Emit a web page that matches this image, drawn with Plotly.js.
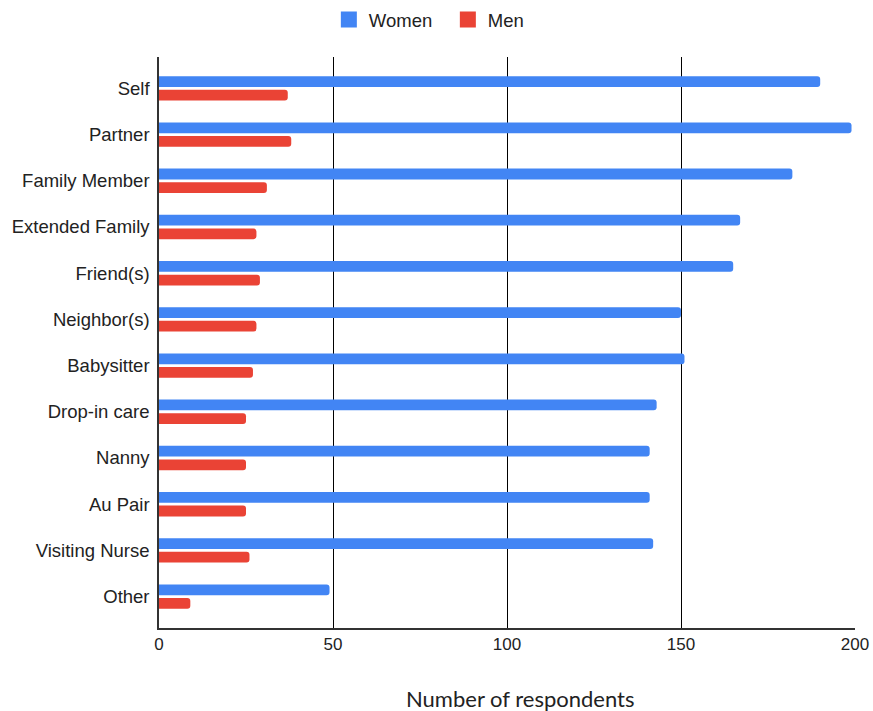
<!DOCTYPE html>
<html><head><meta charset="utf-8">
<script src="https://cdn.plot.ly/plotly-3.0.1.min.js"></script>
<style>html,body{margin:0;padding:0;background:#fff}</style>
</head><body>
<div id="chart" style="width:873px;height:711px"></div>
<script>
const categories = ["Self","Partner","Family Member","Extended Family","Friend(s)","Neighbor(s)","Babysitter","Drop-in care","Nanny","Au Pair","Visiting Nurse","Other"];
const women = [190,199,182,167,165,150,151,143,141,141,142,49];
const men = [37,38,31,28,29,28,27,25,25,25,26,9];
const seriesNames = ["Women","Men"];
const seriesColors = ['#4285f4','#ea4335'];
const xTicks = [0,50,100,150,200];
const xTitle = 'Number of respondents';

const traces = [
  {type:'bar', orientation:'h', name:seriesNames[0], y:categories, x:women, showlegend:false,
   marker:{color:seriesColors[0], cornerradius:3}, hoverinfo:'x+y'},
  {type:'bar', orientation:'h', name:seriesNames[1], y:categories, x:men, showlegend:false,
   marker:{color:seriesColors[1], cornerradius:3}, hoverinfo:'x+y'},
  {type:'scatter', mode:'markers', name:seriesNames[0], x:[null], y:[null],
   marker:{symbol:'square', size:17, color:seriesColors[0]}},
  {type:'scatter', mode:'markers', name:seriesNames[1], x:[null], y:[null],
   marker:{symbol:'square', size:17, color:seriesColors[1]}}
];
const layout = {
  width:873, height:711,
  margin:{l:159, r:18, t:57, b:83},
  paper_bgcolor:'#fff', plot_bgcolor:'#fff',
  barmode:'group', bargap:0.41, bargroupgap:0.21,
  font:{family:'Liberation Sans, Arial, sans-serif', size:17, color:'#222'},
  showlegend:true,
  legend:{orientation:'h', xref:'container', yref:'container', x:0.513, xanchor:'center',
          y:0.972, yanchor:'middle', font:{size:18.5, color:'#222'}, itemwidth:30,
          entrywidth:74, traceorder:'normal', itemsizing:'trace'},
  xaxis:{range:[0,200], tickvals:xTicks, ticktext:xTicks.map(String), fixedrange:true,
         showgrid:true, gridcolor:'#000', gridwidth:1, zeroline:false,
         showline:true, linecolor:'#333', linewidth:1.5, ticks:'', ticklen:0,
         tickfont:{size:17, color:'#222'}, automargin:false},
  yaxis:{type:'category', range:[11.68,-0.68], showgrid:false, zeroline:false, fixedrange:true,
         showline:true, linecolor:'#333', linewidth:1.5, ticks:'', ticklen:0, ticklabelstandoff:4,
         tickfont:{size:18.5, color:'#222'}, automargin:false},
  annotations:[{text:xTitle, xref:'paper', yref:'paper', x:0.52, y:-70/571, yanchor:'middle',
                xanchor:'center', showarrow:false,
                font:{family:'Lato, sans-serif', size:22, color:'#222'}}]
};
Plotly.newPlot('chart', traces, layout, {displayModeBar:false});
</script>
</body></html>
